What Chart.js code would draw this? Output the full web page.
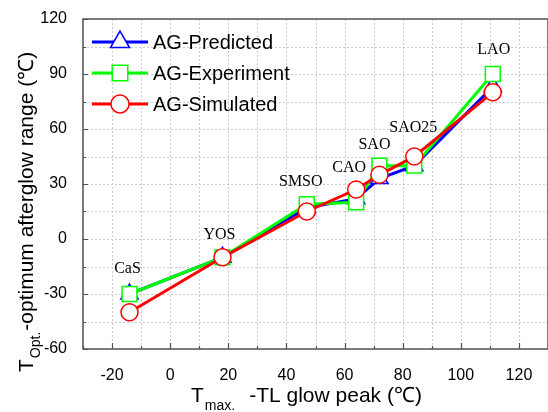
<!DOCTYPE html>
<html>
<head>
<meta charset="utf-8">
<script src="https://cdn.jsdelivr.net/npm/chart.js@4"></script>
<style>
html, body { margin: 0; padding: 0; background: #fff; overflow: hidden; }
#contenedor { width: 560px; height: 412px; }
</style>
</head>
<body>
<div id="contenedor"><canvas id="grafica"></canvas></div>
<script>
// muestras y valores
const muestras = ['CaS', 'YOS', 'SMSO', 'CAO', 'SAO', 'SAO25', 'LAO'];
const tMax = [-14, 18, 47, 64, 72, 84, 111];
const agPredicted = [-30, -10, 17, 22, 33, 40, 83];
const agExperiment = [-30, -10, 19, 20, 40, 40, 90];
const agSimulated = [-40, -10, 15, 27, 35, 45, 80];
const xTicks = [-20, 0, 20, 40, 60, 80, 100, 120];
const yTicks = [-60, -30, 0, 30, 60, 90, 120];

// desplazamiento de cada etiqueta respecto al punto mas alto (px)
const offsetsEtiquetas = [[-2, -25], [-3, -23], [-6, -22], [-7, -22], [-5, -21], [-1, -29], [1, -24]];

const sans = '"Liberation Sans", Arial, sans-serif';
const serif = '"Liberation Serif", "Times New Roman", serif';

function puntos(valores) {
    return tMax.map((x, i) => ({ x: x, y: valores[i] }));
}

function serie(nombre, valores, color, estilo, radio, orden) {
    return {
        label: nombre,
        data: puntos(valores),
        showLine: true,
        borderColor: color,
        backgroundColor: '#fff',
        borderWidth: 3,
        pointStyle: estilo,
        pointRadius: radio,
        pointBorderWidth: 1.5,
        pointBorderColor: color,
        pointBackgroundColor: '#fff',
        order: orden
    };
}

const extras = {
    id: 'extras',
    beforeDatasetsDraw(chart) {
        // rejilla punteada
        const ctx = chart.ctx;
        const a = chart.chartArea;
        const sx = chart.scales.x;
        const sy = chart.scales.y;
        ctx.save();
        ctx.strokeStyle = '#cccccc';
        ctx.lineWidth = 1;
        ctx.setLineDash([2, 2]);
        ctx.beginPath();
        for (let v = -20; v < 130; v += 10) {
            const px = Math.round(sx.getPixelForValue(v)) + 0.5;
            ctx.moveTo(px, a.top);
            ctx.lineTo(px, a.bottom);
        }
        for (let v = -45; v < 120; v += 15) {
            const py = Math.round(sy.getPixelForValue(v)) + 0.5;
            ctx.moveTo(a.left, py);
            ctx.lineTo(a.right, py);
        }
        ctx.stroke();
        ctx.restore();
    },
    afterDraw(chart) {
        const ctx = chart.ctx;
        const a = chart.chartArea;
        const sx = chart.scales.x;
        const sy = chart.scales.y;
        ctx.save();

        // marco
        ctx.strokeStyle = '#505050';
        ctx.lineWidth = 1.5;
        ctx.strokeRect(a.left, a.top, a.right - a.left, a.bottom - a.top);

        // marcas hacia dentro
        ctx.lineWidth = 1.2;
        ctx.beginPath();
        for (let v = -30; v <= 130; v += 10) {
            const px = Math.round(sx.getPixelForValue(v)) + 0.5;
            const len = xTicks.includes(v) ? 6 : 3;
            ctx.moveTo(px, a.bottom);
            ctx.lineTo(px, a.bottom - len);
        }
        for (let v = -60; v <= 120; v += 15) {
            const py = Math.round(sy.getPixelForValue(v)) + 0.5;
            const len = yTicks.includes(v) ? 5 : 3;
            ctx.moveTo(a.left, py);
            ctx.lineTo(a.left + len, py);
        }
        ctx.stroke();

        // etiquetas de las muestras
        ctx.fillStyle = '#000';
        ctx.font = '16px ' + serif;
        ctx.textAlign = 'center';
        ctx.textBaseline = 'middle';
        muestras.forEach((m, i) => {
            const top = Math.max(agPredicted[i], agExperiment[i], agSimulated[i]);
            const px = sx.getPixelForValue(tMax[i]) + offsetsEtiquetas[i][0];
            const py = sy.getPixelForValue(top) + offsetsEtiquetas[i][1];
            ctx.fillText(m, px, py);
        });

        // leyenda
        const filas = [42, 73, 104];
        chart.data.datasets.forEach((ds, i) => {
            const y = filas[i];
            ctx.strokeStyle = ds.borderColor;
            ctx.lineWidth = 3;
            ctx.beginPath();
            ctx.moveTo(92, y);
            ctx.lineTo(148, y);
            ctx.stroke();
            ctx.fillStyle = '#fff';
            ctx.lineWidth = 1.5;
            Chart.helpers.drawPoint(ctx, {
                pointStyle: ds.pointStyle,
                radius: ds.pointStyle === 'circle' ? 9 : 11,
                borderWidth: 1.5,
                rotation: 0
            }, 120, y);
            ctx.fillStyle = '#000';
            ctx.font = '20px ' + sans;
            ctx.textAlign = 'left';
            ctx.fillText(ds.label, 153, y + 1);
        });

        // titulo eje x
        ctx.fillStyle = '#000';
        ctx.textAlign = 'left';
        ctx.textBaseline = 'alphabetic';
        let x0 = 191;
        ctx.font = '21px ' + sans;
        ctx.fillText('T', x0, 402);
        x0 += ctx.measureText('T').width + 1;
        ctx.font = '14px ' + sans;
        ctx.fillText('max.', x0, 410);
        x0 += ctx.measureText('max.').width + 14;
        ctx.font = '21px ' + sans;
        ctx.fillText('-TL glow peak (\u2103)', x0, 402);

        // titulo eje y
        ctx.save();
        ctx.translate(33, 372);
        ctx.rotate(-Math.PI / 2);
        let y0 = 0;
        ctx.font = '21px ' + sans;
        ctx.fillText('T', y0, 0);
        y0 += ctx.measureText('T').width + 1;
        ctx.font = '14px ' + sans;
        ctx.fillText('Opt.', y0, 7);
        y0 += ctx.measureText('Opt.').width + 1;
        ctx.font = '21px ' + sans;
        ctx.fillText('-optimum afterglow range (\u2103)', y0, 0);
        ctx.restore();

        ctx.restore();
    }
};

new Chart(document.getElementById('grafica'), {
    type: 'scatter',
    data: {
        datasets: [
            serie('AG-Predicted', agPredicted, '#0000ff', 'triangle', 10, 2),
            serie('AG-Experiment', agExperiment, '#00ff00', 'rect', 10.5, 1),
            serie('AG-Simulated', agSimulated, '#ff0000', 'circle', 8.5, 0)
        ]
    },
    options: {
        responsive: true,
        maintainAspectRatio: false,
        animation: false,
        events: [],
        layout: { padding: { top: 19, right: 8, left: 0, bottom: 0 } },
        plugins: {
            legend: { display: false },
            tooltip: { enabled: false }
        },
        scales: {
            x: {
                type: 'linear',
                min: -30,
                max: 130,
                afterFit: s => { s.height = 63; },
                border: { display: false },
                grid: { display: false },
                ticks: {
                    stepSize: 10,
                    autoSkip: false,
                    maxRotation: 0,
                    padding: 9,
                    color: '#000',
                    font: { family: sans, size: 16 },
                    callback: v => xTicks.includes(v) ? String(v) : ''
                }
            },
            y: {
                min: -60,
                max: 120,
                afterFit: s => { s.width = 83; },
                border: { display: false },
                grid: { display: false },
                ticks: {
                    stepSize: 15,
                    autoSkip: false,
                    padding: 8,
                    color: '#000',
                    font: { family: sans, size: 16 },
                    callback: v => yTicks.includes(v) ? String(v) : ''
                }
            }
        }
    },
    plugins: [extras]
});
</script>
</body>
</html>
